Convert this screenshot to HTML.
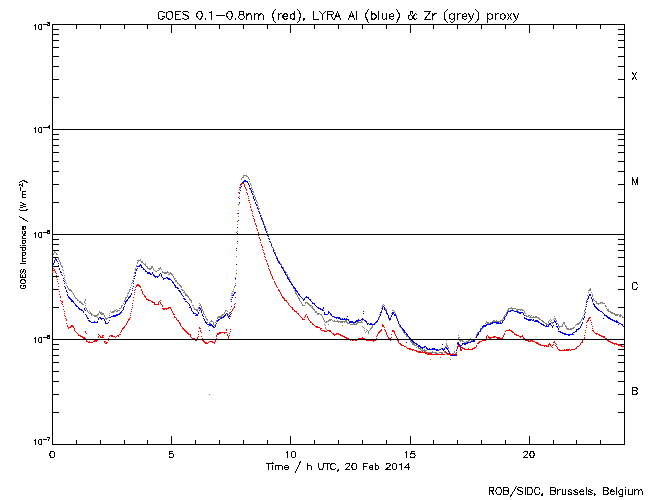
<!DOCTYPE html>
<html lang="en"><head><meta charset="utf-8"><title>GOES 0.1-0.8nm (red), LYRA Al (blue) &amp; Zr (grey) proxy</title>
<style>html,body{margin:0;padding:0;background:#fff;}body{width:650px;height:500px;overflow:hidden;font-family:"Liberation Sans",sans-serif;}svg{display:block;}text{font-family:"Liberation Sans",sans-serif;fill:#000;fill-opacity:0;}.hs{fill:none;stroke:#000;stroke-width:1;stroke-linecap:square;stroke-linejoin:miter;}</style>
</head><body>
<svg width="650" height="500" viewBox="0 0 650 500">
<rect x="0" y="0" width="650" height="500" fill="#fff"/>
<g stroke="#000" stroke-width="1" shape-rendering="crispEdges" fill="none">
<rect x="52.5" y="24.5" width="572" height="420"/>
<line x1="52.5" y1="444" x2="52.5" y2="436"/>
<line x1="52.5" y1="24" x2="52.5" y2="33"/>
<line x1="76.5" y1="444" x2="76.5" y2="440"/>
<line x1="76.5" y1="24" x2="76.5" y2="29"/>
<line x1="100.5" y1="444" x2="100.5" y2="440"/>
<line x1="100.5" y1="24" x2="100.5" y2="29"/>
<line x1="124.5" y1="444" x2="124.5" y2="440"/>
<line x1="124.5" y1="24" x2="124.5" y2="29"/>
<line x1="147.5" y1="444" x2="147.5" y2="440"/>
<line x1="147.5" y1="24" x2="147.5" y2="29"/>
<line x1="171.5" y1="444" x2="171.5" y2="436"/>
<line x1="171.5" y1="24" x2="171.5" y2="33"/>
<line x1="195.5" y1="444" x2="195.5" y2="440"/>
<line x1="195.5" y1="24" x2="195.5" y2="29"/>
<line x1="219.5" y1="444" x2="219.5" y2="440"/>
<line x1="219.5" y1="24" x2="219.5" y2="29"/>
<line x1="243.5" y1="444" x2="243.5" y2="440"/>
<line x1="243.5" y1="24" x2="243.5" y2="29"/>
<line x1="267.5" y1="444" x2="267.5" y2="440"/>
<line x1="267.5" y1="24" x2="267.5" y2="29"/>
<line x1="290.5" y1="444" x2="290.5" y2="436"/>
<line x1="290.5" y1="24" x2="290.5" y2="33"/>
<line x1="314.5" y1="444" x2="314.5" y2="440"/>
<line x1="314.5" y1="24" x2="314.5" y2="29"/>
<line x1="338.5" y1="444" x2="338.5" y2="440"/>
<line x1="338.5" y1="24" x2="338.5" y2="29"/>
<line x1="362.5" y1="444" x2="362.5" y2="440"/>
<line x1="362.5" y1="24" x2="362.5" y2="29"/>
<line x1="386.5" y1="444" x2="386.5" y2="440"/>
<line x1="386.5" y1="24" x2="386.5" y2="29"/>
<line x1="410.5" y1="444" x2="410.5" y2="436"/>
<line x1="410.5" y1="24" x2="410.5" y2="33"/>
<line x1="433.5" y1="444" x2="433.5" y2="440"/>
<line x1="433.5" y1="24" x2="433.5" y2="29"/>
<line x1="457.5" y1="444" x2="457.5" y2="440"/>
<line x1="457.5" y1="24" x2="457.5" y2="29"/>
<line x1="481.5" y1="444" x2="481.5" y2="440"/>
<line x1="481.5" y1="24" x2="481.5" y2="29"/>
<line x1="505.5" y1="444" x2="505.5" y2="440"/>
<line x1="505.5" y1="24" x2="505.5" y2="29"/>
<line x1="529.5" y1="444" x2="529.5" y2="436"/>
<line x1="529.5" y1="24" x2="529.5" y2="33"/>
<line x1="553.5" y1="444" x2="553.5" y2="440"/>
<line x1="553.5" y1="24" x2="553.5" y2="29"/>
<line x1="576.5" y1="444" x2="576.5" y2="440"/>
<line x1="576.5" y1="24" x2="576.5" y2="29"/>
<line x1="600.5" y1="444" x2="600.5" y2="440"/>
<line x1="600.5" y1="24" x2="600.5" y2="29"/>
<line x1="624.5" y1="444" x2="624.5" y2="440"/>
<line x1="624.5" y1="24" x2="624.5" y2="29"/>
<line x1="52" y1="97.5" x2="59" y2="97.5"/>
<line x1="625" y1="97.5" x2="618" y2="97.5"/>
<line x1="52" y1="79.5" x2="59" y2="79.5"/>
<line x1="625" y1="79.5" x2="618" y2="79.5"/>
<line x1="52" y1="66.5" x2="59" y2="66.5"/>
<line x1="625" y1="66.5" x2="618" y2="66.5"/>
<line x1="52" y1="56.5" x2="59" y2="56.5"/>
<line x1="625" y1="56.5" x2="618" y2="56.5"/>
<line x1="52" y1="47.5" x2="59" y2="47.5"/>
<line x1="625" y1="47.5" x2="618" y2="47.5"/>
<line x1="52" y1="40.5" x2="59" y2="40.5"/>
<line x1="625" y1="40.5" x2="618" y2="40.5"/>
<line x1="52" y1="34.5" x2="59" y2="34.5"/>
<line x1="625" y1="34.5" x2="618" y2="34.5"/>
<line x1="52" y1="29.5" x2="59" y2="29.5"/>
<line x1="625" y1="29.5" x2="618" y2="29.5"/>
<line x1="52" y1="202.5" x2="59" y2="202.5"/>
<line x1="625" y1="202.5" x2="618" y2="202.5"/>
<line x1="52" y1="184.5" x2="59" y2="184.5"/>
<line x1="625" y1="184.5" x2="618" y2="184.5"/>
<line x1="52" y1="171.5" x2="59" y2="171.5"/>
<line x1="625" y1="171.5" x2="618" y2="171.5"/>
<line x1="52" y1="161.5" x2="59" y2="161.5"/>
<line x1="625" y1="161.5" x2="618" y2="161.5"/>
<line x1="52" y1="152.5" x2="59" y2="152.5"/>
<line x1="625" y1="152.5" x2="618" y2="152.5"/>
<line x1="52" y1="145.5" x2="59" y2="145.5"/>
<line x1="625" y1="145.5" x2="618" y2="145.5"/>
<line x1="52" y1="139.5" x2="59" y2="139.5"/>
<line x1="625" y1="139.5" x2="618" y2="139.5"/>
<line x1="52" y1="134.5" x2="59" y2="134.5"/>
<line x1="625" y1="134.5" x2="618" y2="134.5"/>
<line x1="52" y1="307.5" x2="59" y2="307.5"/>
<line x1="625" y1="307.5" x2="618" y2="307.5"/>
<line x1="52" y1="289.5" x2="59" y2="289.5"/>
<line x1="625" y1="289.5" x2="618" y2="289.5"/>
<line x1="52" y1="276.5" x2="59" y2="276.5"/>
<line x1="625" y1="276.5" x2="618" y2="276.5"/>
<line x1="52" y1="266.5" x2="59" y2="266.5"/>
<line x1="625" y1="266.5" x2="618" y2="266.5"/>
<line x1="52" y1="257.5" x2="59" y2="257.5"/>
<line x1="625" y1="257.5" x2="618" y2="257.5"/>
<line x1="52" y1="250.5" x2="59" y2="250.5"/>
<line x1="625" y1="250.5" x2="618" y2="250.5"/>
<line x1="52" y1="244.5" x2="59" y2="244.5"/>
<line x1="625" y1="244.5" x2="618" y2="244.5"/>
<line x1="52" y1="239.5" x2="59" y2="239.5"/>
<line x1="625" y1="239.5" x2="618" y2="239.5"/>
<line x1="52" y1="412.5" x2="59" y2="412.5"/>
<line x1="625" y1="412.5" x2="618" y2="412.5"/>
<line x1="52" y1="394.5" x2="59" y2="394.5"/>
<line x1="625" y1="394.5" x2="618" y2="394.5"/>
<line x1="52" y1="381.5" x2="59" y2="381.5"/>
<line x1="625" y1="381.5" x2="618" y2="381.5"/>
<line x1="52" y1="371.5" x2="59" y2="371.5"/>
<line x1="625" y1="371.5" x2="618" y2="371.5"/>
<line x1="52" y1="362.5" x2="59" y2="362.5"/>
<line x1="625" y1="362.5" x2="618" y2="362.5"/>
<line x1="52" y1="355.5" x2="59" y2="355.5"/>
<line x1="625" y1="355.5" x2="618" y2="355.5"/>
<line x1="52" y1="349.5" x2="59" y2="349.5"/>
<line x1="625" y1="349.5" x2="618" y2="349.5"/>
<line x1="52" y1="344.5" x2="59" y2="344.5"/>
<line x1="625" y1="344.5" x2="618" y2="344.5"/>
</g>
<g>
<path d="M243 175.5h4M243 176.5h1M246 176.5h2M242 177.5h2M248 177.5h1M241 178.5h1M248 178.5h1M241 179.5h1M249 179.5h1M249 181.5h1M250 183.5h1M240 184.5h1M250 184.5h1M251 185.5h1M251 187.5h1M240 188.5h1M251 188.5h1M252 189.5h1M252 191.5h2M239 192.5h1M253 192.5h1M253 194.5h1M254 195.5h1M239 196.5h1M254 196.5h1M255 197.5h1M255 198.5h1M255 199.5h1M256 200.5h1M256 201.5h1M257 202.5h1M239 203.5h1M257 204.5h1M257 205.5h1M258 206.5h1M258 208.5h2M238 210.5h1M259 211.5h1M260 213.5h1M261 215.5h1M238 216.5h1M261 217.5h1M262 218.5h1M262 219.5h1M263 221.5h1M263 222.5h1M263 223.5h1M237 224.5h1M264 224.5h1M264 225.5h1M265 226.5h1M265 227.5h1M265 228.5h1M266 229.5h1M237 231.5h1M266 231.5h2M267 233.5h1M267 235.5h2M268 236.5h1M269 238.5h1M269 239.5h1M270 241.5h1M270 242.5h1M237 243.5h1M271 243.5h1M271 246.5h1M272 247.5h1M273 248.5h1M273 249.5h1M273 250.5h2M54 251.5h1M54 252.5h2M274 252.5h2M53 253.5h1M56 253.5h1M275 253.5h1M53 254.5h1M56 254.5h2M275 255.5h1M236 256.5h1M276 256.5h1M58 257.5h1M276 257.5h2M58 258.5h1M58 259.5h1M140 259.5h1M277 259.5h1M59 260.5h1M137 260.5h4M278 260.5h1M59 261.5h1M138 261.5h1M141 261.5h2M278 261.5h2M60 262.5h1M137 262.5h1M141 262.5h2M60 263.5h1M137 263.5h1M143 263.5h1M145 263.5h1M279 263.5h2M60 264.5h1M144 264.5h2M280 264.5h2M61 265.5h1M136 265.5h1M145 265.5h1M281 265.5h1M61 266.5h2M136 266.5h1M146 266.5h2M151 266.5h2M62 267.5h1M147 267.5h1M151 267.5h2M160 267.5h1M282 267.5h2M135 268.5h1M147 268.5h5M153 268.5h1M158 268.5h3M283 268.5h1M62 269.5h1M135 269.5h1M149 269.5h2M153 269.5h1M159 269.5h1M161 269.5h1M63 270.5h1M135 270.5h1M154 270.5h1M157 270.5h2M236 270.5h1M284 270.5h1M155 271.5h2M162 271.5h1M167 271.5h1M285 271.5h1M134 272.5h1M162 272.5h7M170 272.5h1M285 272.5h2M63 273.5h1M134 273.5h1M164 273.5h3M169 273.5h3M168 274.5h2M171 274.5h2M286 274.5h2M64 275.5h1M172 275.5h1M287 275.5h1M133 276.5h1M173 276.5h1M287 276.5h1M64 277.5h1M173 277.5h1M235 277.5h1M288 277.5h2M133 278.5h1M174 278.5h2M64 279.5h1M174 279.5h1M235 279.5h1M289 279.5h1M65 280.5h1M132 280.5h2M175 280.5h2M175 281.5h2M290 281.5h1M65 282.5h1M132 282.5h1M177 282.5h1M291 282.5h1M66 283.5h1M131 283.5h1M177 283.5h2M235 283.5h1M291 283.5h1M179 284.5h1M292 284.5h1M66 285.5h1M131 285.5h1M179 285.5h2M292 285.5h1M67 286.5h1M180 286.5h2M234 286.5h1M293 286.5h1M67 287.5h1M130 287.5h1M181 287.5h1M234 287.5h1M293 287.5h1M68 288.5h1M293 288.5h1M590 288.5h1M68 289.5h3M129 289.5h2M181 289.5h2M233 289.5h1M589 289.5h2M69 290.5h3M129 290.5h1M182 290.5h2M294 290.5h1M588 290.5h3M71 291.5h1M129 291.5h1M184 291.5h1M232 291.5h2M295 291.5h1M72 292.5h1M128 292.5h1M183 292.5h2M295 292.5h1M588 292.5h1M591 292.5h1M73 293.5h1M127 293.5h2M185 293.5h1M231 293.5h2M295 293.5h2M73 294.5h1M185 294.5h2M296 294.5h1M592 294.5h1M74 295.5h1M127 295.5h1M185 295.5h3M231 295.5h1M297 295.5h1M587 295.5h1M592 295.5h1M74 296.5h1M127 296.5h1M187 296.5h2M297 296.5h1M592 296.5h1M75 297.5h1M125 297.5h2M188 297.5h1M231 297.5h1M298 297.5h1M75 298.5h2M125 298.5h1M189 298.5h1M298 298.5h2M587 298.5h1M593 298.5h1M77 299.5h1M85 299.5h1M125 299.5h1M189 299.5h2M230 299.5h1M299 299.5h1M593 299.5h1M77 300.5h2M85 300.5h1M124 300.5h1M190 300.5h2M299 300.5h1M586 300.5h1M594 300.5h1M79 301.5h2M84 301.5h1M124 301.5h1M191 301.5h1M300 301.5h1M586 301.5h1M595 301.5h2M79 302.5h3M84 302.5h1M191 302.5h1M301 302.5h1M305 302.5h3M596 302.5h1M600 302.5h3M81 303.5h2M85 303.5h1M123 303.5h1M199 303.5h1M301 303.5h1M305 303.5h1M307 303.5h2M596 303.5h5M602 303.5h3M82 304.5h2M200 304.5h1M302 304.5h1M308 304.5h2M383 304.5h1M586 304.5h1M598 304.5h1M85 305.5h1M121 305.5h2M192 305.5h2M199 305.5h2M302 305.5h3M309 305.5h3M382 305.5h1M384 305.5h1M605 305.5h1M121 306.5h1M201 306.5h1M310 306.5h1M312 306.5h1M382 306.5h1M585 306.5h1M605 306.5h2M85 307.5h1M121 307.5h1M193 307.5h1M198 307.5h1M201 307.5h1M311 307.5h2M384 307.5h1M511 307.5h1M86 308.5h1M119 308.5h2M194 308.5h1M198 308.5h1M201 308.5h1M312 308.5h2M381 308.5h1M385 308.5h1M508 308.5h8M585 308.5h1M606 308.5h1M86 309.5h1M116 309.5h1M194 309.5h4M202 309.5h1M230 309.5h1M313 309.5h2M385 309.5h2M508 309.5h1M512 309.5h1M516 309.5h7M607 309.5h2M87 310.5h1M114 310.5h2M117 310.5h3M196 310.5h2M202 310.5h1M225 310.5h2M314 310.5h1M381 310.5h1M386 310.5h1M392 310.5h2M507 310.5h2M516 310.5h2M520 310.5h1M522 310.5h2M584 310.5h1M607 310.5h2M87 311.5h1M89 311.5h1M99 311.5h1M110 311.5h1M112 311.5h3M116 311.5h2M197 311.5h1M203 311.5h1M225 311.5h1M227 311.5h1M315 311.5h2M386 311.5h1M394 311.5h1M507 311.5h1M518 311.5h1M524 311.5h1M584 311.5h1M608 311.5h3M88 312.5h1M90 312.5h1M99 312.5h3M111 312.5h3M203 312.5h1M224 312.5h1M229 312.5h1M315 312.5h2M380 312.5h1M392 312.5h1M394 312.5h1M506 312.5h1M524 312.5h1M610 312.5h3M89 313.5h3M98 313.5h1M100 313.5h4M109 313.5h1M203 313.5h1M224 313.5h1M227 313.5h1M229 313.5h1M317 313.5h3M380 313.5h1M387 313.5h1M391 313.5h1M395 313.5h1M506 313.5h1M525 313.5h1M584 313.5h1M611 313.5h4M91 314.5h2M97 314.5h2M101 314.5h3M204 314.5h1M222 314.5h2M228 314.5h1M317 314.5h2M320 314.5h2M379 314.5h2M387 314.5h1M505 314.5h1M614 314.5h5M620 314.5h1M91 315.5h1M93 315.5h5M104 315.5h1M109 315.5h1M221 315.5h2M321 315.5h1M391 315.5h1M396 315.5h1M504 315.5h1M525 315.5h2M528 315.5h2M531 315.5h1M583 315.5h1M615 315.5h3M619 315.5h3M94 316.5h3M104 316.5h1M205 316.5h1M218 316.5h4M229 316.5h1M322 316.5h1M334 316.5h1M347 316.5h1M388 316.5h1M396 316.5h1M504 316.5h1M526 316.5h3M530 316.5h1M533 316.5h1M535 316.5h2M554 316.5h1M619 316.5h2M622 316.5h1M97 317.5h1M105 317.5h1M108 317.5h1M205 317.5h1M217 317.5h4M322 317.5h1M378 317.5h2M388 317.5h1M390 317.5h1M503 317.5h1M529 317.5h10M582 317.5h1M622 317.5h2M105 318.5h3M206 318.5h1M217 318.5h1M323 318.5h1M378 318.5h1M388 318.5h1M390 318.5h1M396 318.5h2M503 318.5h2M538 318.5h2M554 318.5h2M582 318.5h1M106 319.5h1M206 319.5h2M323 319.5h1M329 319.5h3M378 319.5h1M390 319.5h1M502 319.5h1M539 319.5h2M550 319.5h1M553 319.5h1M555 319.5h1M581 319.5h1M207 320.5h1M211 320.5h1M216 320.5h1M324 320.5h1M328 320.5h3M332 320.5h1M334 320.5h1M337 320.5h1M345 320.5h2M362 320.5h1M377 320.5h1M389 320.5h1M397 320.5h1M493 320.5h2M496 320.5h1M500 320.5h3M541 320.5h2M549 320.5h1M551 320.5h1M556 320.5h1M581 320.5h1M210 321.5h3M216 321.5h1M324 321.5h1M326 321.5h3M333 321.5h14M358 321.5h1M361 321.5h1M376 321.5h2M398 321.5h1M486 321.5h1M492 321.5h9M542 321.5h2M548 321.5h1M550 321.5h1M556 321.5h1M580 321.5h1M207 322.5h1M209 322.5h1M213 322.5h1M215 322.5h1M325 322.5h2M338 322.5h1M340 322.5h3M344 322.5h1M346 322.5h2M357 322.5h6M375 322.5h2M486 322.5h3M490 322.5h2M497 322.5h1M543 322.5h2M548 322.5h1M551 322.5h3M563 322.5h2M579 322.5h2M209 323.5h2M213 323.5h1M347 323.5h3M353 323.5h2M356 323.5h2M375 323.5h1M398 323.5h1M485 323.5h1M487 323.5h3M545 323.5h2M552 323.5h1M556 323.5h2M563 323.5h2M577 323.5h3M208 324.5h2M213 324.5h1M215 324.5h1M324 324.5h1M328 324.5h1M350 324.5h7M373 324.5h2M488 324.5h1M546 324.5h3M558 324.5h1M562 324.5h1M564 324.5h1M576 324.5h3M214 325.5h1M325 325.5h1M342 325.5h1M372 325.5h1M399 325.5h1M484 325.5h2M558 325.5h1M562 325.5h1M565 325.5h1M575 325.5h1M208 326.5h1M362 326.5h1M372 326.5h1M399 326.5h2M483 326.5h2M558 326.5h5M565 326.5h2M325 327.5h1M363 327.5h1M371 327.5h2M400 327.5h2M482 327.5h2M559 327.5h1M566 327.5h1M573 327.5h2M325 328.5h1M364 328.5h1M370 328.5h2M401 328.5h1M480 328.5h1M482 328.5h1M566 328.5h3M570 328.5h4M326 329.5h1M366 329.5h1M370 329.5h1M402 329.5h1M481 329.5h1M567 329.5h5M364 330.5h1M367 330.5h1M369 330.5h1M402 330.5h1M480 330.5h1M366 331.5h1M368 331.5h1M403 331.5h1M479 331.5h1M365 332.5h1M368 332.5h1M403 332.5h2M477 332.5h2M368 333.5h1M404 333.5h1M477 333.5h1M405 334.5h2M476 334.5h1M406 335.5h1M458 335.5h1M476 335.5h1M406 336.5h2M408 337.5h1M458 337.5h2M475 337.5h2M458 338.5h1M470 338.5h1M409 339.5h2M458 339.5h1M461 339.5h1M469 339.5h2M474 339.5h2M410 340.5h1M446 340.5h1M459 340.5h4M468 340.5h2M471 340.5h4M410 341.5h2M460 341.5h1M462 341.5h2M466 341.5h3M470 341.5h1M472 341.5h1M411 342.5h2M457 342.5h1M464 342.5h3M412 343.5h3M446 343.5h1M464 343.5h2M412 344.5h3M442 344.5h1M446 344.5h1M457 344.5h1M464 344.5h1M414 345.5h3M446 345.5h2M417 346.5h2M445 346.5h1M447 346.5h1M416 347.5h1M418 347.5h1M448 347.5h1M418 348.5h4M448 348.5h1M420 349.5h1M422 349.5h1M424 349.5h1M444 349.5h1M456 349.5h1M421 350.5h6M448 350.5h1M425 351.5h1M432 351.5h1M444 351.5h1M449 351.5h1M454 351.5h1M426 352.5h11M439 352.5h4M444 352.5h1M449 352.5h1M454 352.5h1M456 352.5h1M427 353.5h1M429 353.5h1M435 353.5h4M441 353.5h2M450 353.5h1M452 353.5h2M455 353.5h2M443 354.5h1M451 354.5h1M453 354.5h1M455 354.5h1M440 357.5h1M430 359.5h1M450 359.5h1M209 394.5h1" fill="none" stroke="#808080" stroke-width="1" shape-rendering="crispEdges"/>
<path d="M244 180.5h2M243 181.5h5M242 182.5h2M247 182.5h1M248 183.5h1M241 184.5h1M248 184.5h1M249 185.5h1M241 186.5h1M249 186.5h1M240 187.5h1M249 188.5h2M250 189.5h1M240 190.5h1M251 190.5h1M251 191.5h1M251 192.5h1M239 193.5h1M252 193.5h1M252 194.5h1M253 196.5h1M253 197.5h1M239 198.5h1M253 198.5h1M254 199.5h1M254 200.5h1M239 202.5h1M255 202.5h1M255 203.5h1M256 204.5h1M256 205.5h1M257 207.5h1M257 208.5h1M258 209.5h1M258 211.5h1M259 212.5h1M238 213.5h1M259 213.5h1M260 215.5h1M260 216.5h1M261 217.5h1M261 218.5h1M261 219.5h1M238 220.5h1M262 220.5h1M262 221.5h1M263 222.5h1M263 223.5h1M263 224.5h1M264 226.5h1M237 227.5h1M264 227.5h1M265 228.5h1M265 229.5h1M265 230.5h1M266 231.5h1M266 232.5h1M237 233.5h1M267 234.5h1M267 235.5h1M268 236.5h1M268 238.5h1M269 239.5h1M237 241.5h1M269 241.5h1M270 242.5h1M271 244.5h1M271 245.5h1M272 247.5h1M236 248.5h1M273 249.5h1M273 250.5h1M273 251.5h1M274 252.5h1M274 253.5h1M275 254.5h1M275 255.5h1M276 256.5h1M55 258.5h1M276 258.5h2M55 259.5h2M277 259.5h1M54 260.5h1M56 260.5h1M277 260.5h1M54 261.5h1M57 261.5h1M278 261.5h1M54 262.5h1M278 262.5h2M53 263.5h1M58 263.5h1M279 263.5h1M53 264.5h1M140 264.5h1M236 264.5h1M280 264.5h1M58 265.5h1M139 265.5h3M53 266.5h1M137 266.5h3M141 266.5h1M281 266.5h1M141 267.5h2M281 267.5h2M59 268.5h1M137 268.5h1M143 268.5h1M282 268.5h1M59 269.5h1M136 269.5h1M143 269.5h2M283 269.5h1M136 270.5h1M145 270.5h1M283 270.5h1M60 271.5h1M145 271.5h2M284 271.5h1M60 272.5h2M135 272.5h1M147 272.5h3M152 272.5h1M284 272.5h2M135 273.5h1M147 273.5h4M152 273.5h1M160 273.5h1M285 273.5h1M61 274.5h1M150 274.5h2M153 274.5h1M159 274.5h1M161 274.5h1M285 274.5h1M62 275.5h1M135 275.5h1M153 275.5h2M159 275.5h1M161 275.5h1M286 275.5h1M134 276.5h1M154 276.5h5M161 276.5h1M287 276.5h1M155 277.5h1M157 277.5h1M162 277.5h1M166 277.5h2M287 277.5h1M63 278.5h1M134 278.5h1M163 278.5h3M167 278.5h3M235 278.5h1M287 278.5h2M163 279.5h1M168 279.5h3M288 279.5h2M63 280.5h1M171 280.5h1M289 280.5h1M64 281.5h1M133 281.5h1M172 281.5h1M289 281.5h2M172 282.5h2M290 282.5h1M64 283.5h1M133 283.5h1M173 283.5h1M291 283.5h1M174 284.5h1M291 284.5h2M174 285.5h2M235 285.5h1M292 285.5h1M64 286.5h1M133 286.5h1M175 286.5h1M293 286.5h1M65 287.5h1M175 287.5h3M293 287.5h2M65 288.5h1M132 288.5h1M177 288.5h2M294 288.5h2M295 289.5h1M66 290.5h1M132 290.5h1M178 290.5h2M295 290.5h2M66 291.5h1M179 291.5h2M296 291.5h2M67 292.5h1M180 292.5h1M234 292.5h2M297 292.5h1M131 293.5h1M181 293.5h1M234 293.5h1M298 293.5h1M67 294.5h1M131 294.5h1M181 294.5h1M233 294.5h1M298 294.5h2M589 294.5h2M67 295.5h1M130 295.5h1M182 295.5h1M232 295.5h2M299 295.5h1M589 295.5h2M68 296.5h1M129 296.5h2M183 296.5h1M300 296.5h1M306 296.5h1M588 296.5h1M68 297.5h2M128 297.5h2M232 297.5h1M301 297.5h1M305 297.5h4M588 297.5h1M591 297.5h1M69 298.5h2M128 298.5h1M183 298.5h2M302 298.5h1M304 298.5h1M308 298.5h1M588 298.5h1M591 298.5h1M70 299.5h2M127 299.5h1M184 299.5h2M231 299.5h1M303 299.5h2M309 299.5h2M587 299.5h1M592 299.5h1M71 300.5h2M126 300.5h2M303 300.5h1M310 300.5h1M592 300.5h1M71 301.5h3M125 301.5h2M185 301.5h2M231 301.5h1M311 301.5h1M587 301.5h1M592 301.5h1M73 302.5h1M125 302.5h1M187 302.5h1M312 302.5h1M586 302.5h1M74 303.5h1M125 303.5h1M188 303.5h1M312 303.5h3M593 303.5h1M75 304.5h1M124 304.5h1M189 304.5h1M314 304.5h1M586 304.5h1M593 304.5h2M75 305.5h2M189 305.5h1M315 305.5h1M594 305.5h1M76 306.5h2M124 306.5h1M190 306.5h1M231 306.5h1M316 306.5h1M383 306.5h1M586 306.5h1M594 306.5h2M78 307.5h1M123 307.5h1M189 307.5h2M199 307.5h1M317 307.5h2M323 307.5h1M382 307.5h1M384 307.5h1M595 307.5h2M78 308.5h2M84 308.5h1M123 308.5h1M191 308.5h1M199 308.5h2M318 308.5h3M323 308.5h1M382 308.5h1M384 308.5h1M596 308.5h2M79 309.5h3M84 309.5h1M123 309.5h1M191 309.5h1M200 309.5h1M320 309.5h3M382 309.5h1M384 309.5h1M585 309.5h1M597 309.5h2M81 310.5h2M85 310.5h1M122 310.5h1M191 310.5h1M199 310.5h1M201 310.5h1M322 310.5h2M385 310.5h1M510 310.5h4M598 310.5h2M83 311.5h1M121 311.5h1M192 311.5h1M201 311.5h1M328 311.5h1M363 311.5h1M381 311.5h1M386 311.5h1M508 311.5h3M514 311.5h4M600 311.5h2M83 312.5h1M120 312.5h2M193 312.5h1M198 312.5h1M201 312.5h1M230 312.5h1M324 312.5h1M328 312.5h2M380 312.5h2M386 312.5h1M392 312.5h2M507 312.5h1M517 312.5h6M585 312.5h1M602 312.5h1M119 313.5h2M193 313.5h3M198 313.5h1M226 313.5h1M324 313.5h1M328 313.5h1M330 313.5h1M363 313.5h1M386 313.5h2M392 313.5h2M507 313.5h1M519 313.5h2M523 313.5h1M603 313.5h1M85 314.5h1M116 314.5h4M196 314.5h2M202 314.5h1M225 314.5h1M227 314.5h1M230 314.5h1M324 314.5h4M330 314.5h2M380 314.5h1M387 314.5h1M392 314.5h1M394 314.5h2M506 314.5h1M523 314.5h1M584 314.5h1M604 314.5h1M86 315.5h1M113 315.5h5M195 315.5h3M202 315.5h1M224 315.5h2M227 315.5h1M229 315.5h1M331 315.5h1M380 315.5h1M388 315.5h1M391 315.5h1M394 315.5h2M506 315.5h1M524 315.5h1M604 315.5h3M86 316.5h1M111 316.5h5M203 316.5h1M223 316.5h2M228 316.5h2M332 316.5h2M347 316.5h1M379 316.5h1M388 316.5h1M391 316.5h1M396 316.5h1M505 316.5h1M584 316.5h1M606 316.5h2M87 317.5h1M99 317.5h2M109 317.5h2M221 317.5h3M228 317.5h1M334 317.5h6M388 317.5h1M396 317.5h1M504 317.5h1M524 317.5h1M584 317.5h1M607 317.5h3M87 318.5h2M98 318.5h1M100 318.5h4M203 318.5h1M220 318.5h2M229 318.5h1M336 318.5h1M338 318.5h3M342 318.5h1M344 318.5h1M346 318.5h1M362 318.5h1M378 318.5h1M389 318.5h2M504 318.5h1M524 318.5h3M583 318.5h1M603 318.5h1M608 318.5h3M98 319.5h1M101 319.5h1M104 319.5h1M204 319.5h1M218 319.5h2M340 319.5h9M358 319.5h1M361 319.5h3M378 319.5h1M389 319.5h2M397 319.5h1M504 319.5h1M526 319.5h6M533 319.5h1M583 319.5h1M610 319.5h3M88 320.5h2M104 320.5h1M109 320.5h1M204 320.5h1M217 320.5h2M348 320.5h1M356 320.5h5M364 320.5h2M377 320.5h1M397 320.5h1M503 320.5h1M528 320.5h3M532 320.5h2M535 320.5h3M554 320.5h1M612 320.5h3M616 320.5h1M89 321.5h2M94 321.5h1M97 321.5h1M105 321.5h1M205 321.5h1M217 321.5h1M349 321.5h4M355 321.5h3M365 321.5h2M376 321.5h2M398 321.5h1M502 321.5h1M534 321.5h5M554 321.5h2M614 321.5h4M91 322.5h7M105 322.5h1M108 322.5h1M205 322.5h2M349 322.5h7M366 322.5h1M375 322.5h2M398 322.5h1M492 322.5h7M500 322.5h1M502 322.5h1M538 322.5h2M553 322.5h1M555 322.5h1M582 322.5h1M616 322.5h3M105 323.5h3M206 323.5h1M216 323.5h1M367 323.5h2M370 323.5h2M374 323.5h1M398 323.5h1M490 323.5h3M496 323.5h6M540 323.5h2M549 323.5h2M556 323.5h1M582 323.5h1M619 323.5h2M207 324.5h5M367 324.5h1M369 324.5h6M399 324.5h1M486 324.5h5M541 324.5h3M549 324.5h2M556 324.5h1M581 324.5h1M618 324.5h1M621 324.5h2M209 325.5h4M215 325.5h1M400 325.5h1M483 325.5h4M543 325.5h2M546 325.5h1M548 325.5h1M551 325.5h1M553 325.5h1M581 325.5h1M622 325.5h1M212 326.5h2M215 326.5h1M400 326.5h1M482 326.5h4M545 326.5h4M552 326.5h1M556 326.5h2M580 326.5h1M623 326.5h1M213 327.5h2M401 327.5h1M482 327.5h1M552 327.5h1M557 327.5h1M580 327.5h1M402 328.5h1M481 328.5h1M558 328.5h1M578 328.5h2M402 329.5h2M480 329.5h1M558 329.5h1M576 329.5h3M209 330.5h1M403 330.5h2M480 330.5h1M576 330.5h1M404 331.5h1M479 331.5h2M558 331.5h3M575 331.5h2M404 332.5h2M478 332.5h1M560 332.5h3M573 332.5h2M406 333.5h1M478 333.5h1M562 333.5h4M572 333.5h1M406 334.5h2M477 334.5h2M564 334.5h10M407 335.5h1M477 335.5h1M568 335.5h2M408 336.5h1M476 336.5h1M409 337.5h1M476 337.5h1M409 338.5h2M410 339.5h2M475 339.5h2M411 340.5h2M473 340.5h2M412 341.5h2M471 341.5h4M406 342.5h1M413 342.5h2M458 342.5h1M467 342.5h4M415 343.5h2M457 343.5h2M462 343.5h6M416 344.5h2M442 344.5h1M458 344.5h2M462 344.5h1M464 344.5h2M418 345.5h2M459 345.5h3M418 346.5h3M424 346.5h2M460 346.5h1M420 347.5h5M426 347.5h1M445 347.5h2M457 347.5h1M461 347.5h1M422 348.5h1M426 348.5h2M429 348.5h1M432 348.5h3M441 348.5h2M444 348.5h1M446 348.5h2M460 348.5h1M427 349.5h11M439 349.5h2M442 349.5h3M447 349.5h1M436 350.5h3M443 350.5h1M448 350.5h1M456 350.5h1M448 351.5h1M449 352.5h1M449 353.5h1M450 354.5h1M452 354.5h5M450 355.5h7" fill="none" stroke="#0000ff" stroke-width="1" shape-rendering="crispEdges"/>
<path d="M241 183.5h3M240 184.5h1M244 184.5h1M240 185.5h1M244 185.5h1M244 186.5h1M239 187.5h1M245 187.5h1M245 188.5h1M239 189.5h1M246 189.5h1M246 190.5h1M238 192.5h1M246 192.5h1M247 193.5h1M247 194.5h1M248 196.5h1M238 197.5h1M248 198.5h1M248 200.5h2M249 202.5h1M238 204.5h1M250 204.5h1M250 206.5h1M250 207.5h1M251 209.5h1M251 210.5h1M252 211.5h1M237 213.5h1M252 213.5h1M252 215.5h1M253 216.5h1M253 218.5h1M254 219.5h1M254 220.5h1M237 221.5h1M254 221.5h1M255 223.5h1M255 224.5h1M256 225.5h1M256 226.5h1M256 228.5h1M257 229.5h1M257 230.5h1M236 232.5h1M258 232.5h1M258 233.5h1M258 235.5h1M259 237.5h1M259 238.5h1M260 239.5h1M260 240.5h1M260 242.5h1M261 244.5h1M261 245.5h1M262 246.5h1M262 247.5h1M262 249.5h1M236 250.5h1M263 250.5h1M263 252.5h1M264 253.5h1M264 254.5h1M264 256.5h1M265 257.5h1M265 259.5h1M266 260.5h1M266 261.5h1M267 263.5h1M267 264.5h1M268 265.5h1M268 266.5h1M53 268.5h1M268 268.5h1M54 269.5h1M269 269.5h1M53 270.5h2M269 270.5h1M52 271.5h1M55 271.5h1M270 271.5h1M52 272.5h1M55 272.5h1M270 272.5h1M56 273.5h1M236 273.5h1M270 273.5h1M271 274.5h1M56 275.5h1M271 275.5h1M272 276.5h1M56 277.5h1M272 277.5h1M272 278.5h1M57 279.5h1M273 279.5h1M57 281.5h1M274 281.5h1M274 282.5h1M58 283.5h1M275 283.5h1M137 284.5h2M275 284.5h1M136 285.5h4M276 285.5h1M58 286.5h1M136 286.5h1M139 286.5h2M276 286.5h1M135 287.5h1M140 287.5h1M277 287.5h1M58 289.5h1M135 289.5h1M141 289.5h1M278 289.5h1M134 290.5h1M141 290.5h1M278 290.5h2M59 291.5h1M142 291.5h1M279 291.5h1M134 292.5h1M142 292.5h1M280 292.5h1M142 293.5h1M280 293.5h1M59 294.5h1M134 294.5h1M143 294.5h1M281 294.5h1M144 295.5h1M281 295.5h1M60 296.5h1M144 296.5h2M282 296.5h1M60 297.5h1M133 297.5h1M145 297.5h1M235 297.5h1M282 297.5h2M146 298.5h1M283 298.5h2M146 299.5h3M284 299.5h1M60 300.5h1M133 300.5h1M148 300.5h3M160 300.5h1M284 300.5h3M61 301.5h2M151 301.5h2M159 301.5h1M286 301.5h1M62 302.5h1M152 302.5h3M158 302.5h1M160 302.5h1M287 302.5h1M61 303.5h1M132 303.5h1M154 303.5h1M158 303.5h1M160 303.5h1M235 303.5h1M288 303.5h1M62 304.5h1M154 304.5h5M161 304.5h1M234 304.5h1M288 304.5h1M132 305.5h1M162 305.5h1M289 305.5h1M63 306.5h1M162 306.5h1M234 306.5h1M290 306.5h1M132 307.5h1M168 307.5h3M234 307.5h1M291 307.5h2M162 308.5h7M170 308.5h1M233 308.5h1M292 308.5h1M63 309.5h1M131 309.5h1M163 309.5h2M166 309.5h1M171 309.5h1M232 309.5h1M292 309.5h2M171 310.5h1M232 310.5h1M294 310.5h1M64 311.5h1M131 311.5h1M172 311.5h1M231 311.5h1M294 311.5h3M172 312.5h1M296 312.5h1M64 313.5h1M130 313.5h1M173 313.5h1M231 313.5h1M297 313.5h2M173 314.5h2M298 314.5h1M306 314.5h1M64 315.5h1M130 315.5h1M299 315.5h1M305 315.5h1M65 316.5h1M174 316.5h1M230 316.5h1M300 316.5h1M305 316.5h1M307 316.5h1M130 317.5h1M174 317.5h2M301 317.5h1M304 317.5h1M307 317.5h1M589 317.5h2M65 318.5h1M129 318.5h1M176 318.5h1M302 318.5h1M308 318.5h1M588 318.5h2M66 319.5h1M128 319.5h2M176 319.5h1M302 319.5h3M308 319.5h1M588 319.5h1M66 320.5h1M128 320.5h1M177 320.5h2M309 320.5h1M587 320.5h2M590 320.5h1M127 321.5h1M178 321.5h1M310 321.5h1M587 321.5h1M127 322.5h1M179 322.5h1M310 322.5h2M586 322.5h1M591 322.5h1M66 323.5h1M126 323.5h1M179 323.5h2M312 323.5h1M126 324.5h1M180 324.5h1M312 324.5h2M382 324.5h1M591 324.5h1M67 325.5h1M71 325.5h2M125 325.5h1M180 325.5h1M314 325.5h1M382 325.5h2M586 325.5h1M67 326.5h1M70 326.5h4M124 326.5h1M181 326.5h1M315 326.5h3M382 326.5h2M592 326.5h1M68 327.5h3M73 327.5h1M123 327.5h2M182 327.5h1M199 327.5h1M316 327.5h4M384 327.5h1M586 327.5h1M68 328.5h1M74 328.5h1M122 328.5h2M182 328.5h2M199 328.5h2M320 328.5h2M592 328.5h1M74 329.5h1M122 329.5h1M183 329.5h2M226 329.5h1M230 329.5h1M320 329.5h1M381 329.5h1M384 329.5h1M509 329.5h1M74 330.5h1M121 330.5h1M184 330.5h2M200 330.5h1M226 330.5h1M321 330.5h4M327 330.5h4M380 330.5h2M385 330.5h1M392 330.5h2M506 330.5h6M585 330.5h1M592 330.5h2M75 331.5h1M85 331.5h1M121 331.5h1M185 331.5h2M198 331.5h1M200 331.5h1M230 331.5h1M324 331.5h3M329 331.5h2M379 331.5h2M385 331.5h1M392 331.5h3M505 331.5h1M511 331.5h2M593 331.5h1M76 332.5h1M85 332.5h1M120 332.5h1M186 332.5h2M201 332.5h1M219 332.5h8M331 332.5h1M378 332.5h2M386 332.5h1M394 332.5h1M512 332.5h2M585 332.5h1M594 332.5h1M77 333.5h1M86 333.5h1M187 333.5h2M217 333.5h4M224 333.5h1M229 333.5h1M332 333.5h2M336 333.5h3M378 333.5h1M386 333.5h1M394 333.5h1M504 333.5h1M514 333.5h1M595 333.5h3M78 334.5h1M98 334.5h1M119 334.5h2M188 334.5h3M198 334.5h1M217 334.5h2M227 334.5h1M333 334.5h4M338 334.5h3M377 334.5h1M386 334.5h1M391 334.5h1M395 334.5h1M504 334.5h1M514 334.5h3M596 334.5h1M598 334.5h2M78 335.5h3M99 335.5h1M102 335.5h2M110 335.5h3M117 335.5h2M190 335.5h1M216 335.5h1M227 335.5h1M229 335.5h1M334 335.5h1M340 335.5h3M377 335.5h1M387 335.5h1M395 335.5h1M487 335.5h1M503 335.5h1M516 335.5h3M522 335.5h1M584 335.5h1M599 335.5h3M80 336.5h3M98 336.5h1M100 336.5h1M102 336.5h1M109 336.5h1M111 336.5h4M116 336.5h1M118 336.5h1M190 336.5h1M198 336.5h1M201 336.5h1M216 336.5h1M228 336.5h1M342 336.5h3M376 336.5h1M387 336.5h1M396 336.5h1M486 336.5h1M488 336.5h1M493 336.5h3M503 336.5h1M519 336.5h4M601 336.5h4M82 337.5h3M98 337.5h1M100 337.5h4M115 337.5h1M191 337.5h1M197 337.5h1M228 337.5h1M344 337.5h3M362 337.5h1M388 337.5h1M391 337.5h1M396 337.5h1M486 337.5h1M488 337.5h7M496 337.5h4M502 337.5h1M520 337.5h1M523 337.5h1M584 337.5h1M603 337.5h2M83 338.5h3M108 338.5h1M192 338.5h3M197 338.5h1M202 338.5h1M216 338.5h1M228 338.5h1M346 338.5h3M358 338.5h7M376 338.5h1M388 338.5h3M397 338.5h1M486 338.5h1M489 338.5h2M497 338.5h6M523 338.5h2M584 338.5h1M605 338.5h2M85 339.5h1M104 339.5h1M108 339.5h1M193 339.5h4M202 339.5h1M347 339.5h11M364 339.5h3M389 339.5h2M484 339.5h2M524 339.5h1M583 339.5h1M606 339.5h2M86 340.5h1M94 340.5h4M108 340.5h1M195 340.5h2M202 340.5h2M215 340.5h1M350 340.5h1M352 340.5h2M355 340.5h2M366 340.5h10M390 340.5h1M397 340.5h2M482 340.5h4M525 340.5h4M530 340.5h3M582 340.5h1M607 340.5h2M86 341.5h2M89 341.5h1M93 341.5h4M104 341.5h2M203 341.5h2M209 341.5h4M215 341.5h1M373 341.5h1M398 341.5h1M479 341.5h3M528 341.5h3M532 341.5h3M554 341.5h1M582 341.5h1M608 341.5h3M88 342.5h5M104 342.5h1M106 342.5h2M204 342.5h3M208 342.5h1M212 342.5h3M398 342.5h1M478 342.5h2M535 342.5h3M553 342.5h2M581 342.5h2M610 342.5h3M105 343.5h2M205 343.5h3M214 343.5h1M399 343.5h2M477 343.5h2M536 343.5h3M549 343.5h1M555 343.5h1M580 343.5h1M612 343.5h5M400 344.5h2M538 344.5h3M548 344.5h3M553 344.5h1M556 344.5h1M580 344.5h1M614 344.5h1M616 344.5h4M401 345.5h3M458 345.5h2M476 345.5h1M540 345.5h7M548 345.5h1M550 345.5h1M552 345.5h1M555 345.5h1M579 345.5h1M618 345.5h4M404 346.5h2M457 346.5h3M476 346.5h1M544 346.5h1M546 346.5h3M551 346.5h1M556 346.5h1M577 346.5h2M621 346.5h3M406 347.5h1M460 347.5h1M462 347.5h1M474 347.5h2M552 347.5h1M557 347.5h1M576 347.5h1M407 348.5h4M457 348.5h1M462 348.5h3M468 348.5h1M472 348.5h3M557 348.5h1M575 348.5h2M409 349.5h5M460 349.5h2M464 349.5h9M558 349.5h2M564 349.5h1M566 349.5h4M571 349.5h4M412 350.5h1M414 350.5h3M460 350.5h2M559 350.5h10M570 350.5h1M416 351.5h5M422 351.5h1M424 351.5h1M445 351.5h1M418 352.5h9M445 352.5h2M456 352.5h1M425 353.5h2M428 353.5h4M446 353.5h3M427 354.5h18M447 354.5h10M450 355.5h1" fill="none" stroke="#ff0000" stroke-width="1" shape-rendering="crispEdges"/>
</g>
<g stroke="#000" stroke-width="1" shape-rendering="crispEdges" fill="none">
<line x1="52" y1="129.5" x2="624" y2="129.5"/>
<line x1="52" y1="234.5" x2="624" y2="234.5"/>
<line x1="52" y1="339.5" x2="624" y2="339.5"/>
</g>
<text x="157" y="19.5" font-size="12" textLength="362" lengthAdjust="spacingAndGlyphs">GOES 0.1-0.8nm (red), LYRA Al (blue) &amp; Zr (grey) proxy</text>
<text x="52.5" y="458" font-size="9.5" text-anchor="middle">0</text>
<text x="171.5" y="458" font-size="9.5" text-anchor="middle">5</text>
<text x="290.5" y="458" font-size="9.5" text-anchor="middle">10</text>
<text x="410.5" y="458" font-size="9.5" text-anchor="middle">15</text>
<text x="529.5" y="458" font-size="9.5" text-anchor="middle">20</text>
<text x="266.5" y="470" font-size="9.5" textLength="143" lengthAdjust="spacingAndGlyphs">Time / h UTC, 20 Feb 2014</text>
<text x="488.5" y="495" font-size="10" textLength="154" lengthAdjust="spacingAndGlyphs">ROB/SIDC, Brussels, Belgium</text>
<text x="33" y="30.0" font-size="8">10<tspan dy="-3.5" font-size="5.5">-3</tspan></text>
<text x="33" y="133.0" font-size="8">10<tspan dy="-3.5" font-size="5.5">-4</tspan></text>
<text x="33" y="238.0" font-size="8">10<tspan dy="-3.5" font-size="5.5">-5</tspan></text>
<text x="33" y="343.0" font-size="8">10<tspan dy="-3.5" font-size="5.5">-6</tspan></text>
<text x="33" y="445.0" font-size="8">10<tspan dy="-3.5" font-size="5.5">-7</tspan></text>
<text x="631.5" y="80.0" font-size="10">X</text>
<text x="631.5" y="185.0" font-size="10">M</text>
<text x="631.5" y="290.0" font-size="10">C</text>
<text x="631.5" y="395.0" font-size="10">B</text>
<path class="hs" shape-rendering="crispEdges" d="M164.5 12.5 L163.5 12.5 L162.5 11.5 L160.5 11.5 L159.5 11.5 L158.5 12.5 L158.5 14.5 L158.5 16.5 L158.5 17.5 L158.5 18.5 L159.5 18.5 L160.5 19.5 L162.5 19.5 L162.5 18.5 L163.5 18.5 L164.5 17.5 L164.5 16.5M162.5 16.5 L164.5 16.5M168.5 11.5 L167.5 12.5 L166.5 12.5 L166.5 14.5 L166.5 16.5 L166.5 17.5 L167.5 18.5 L168.5 18.5 L168.5 19.5 L170.5 19.5 L171.5 18.5 L172.5 17.5 L172.5 16.5 L172.5 14.5 L172.5 12.5 L171.5 12.5 L171.5 11.5 L170.5 11.5 L168.5 11.5M175.5 11.5 L175.5 19.5M175.5 11.5 L180.5 11.5M175.5 14.5 L178.5 14.5M175.5 19.5 L180.5 19.5M188.5 12.5 L187.5 11.5 L186.5 11.5 L184.5 11.5 L183.5 11.5 L182.5 12.5 L183.5 13.5 L183.5 14.5 L184.5 14.5 L186.5 15.5 L187.5 15.5 L187.5 16.5 L188.5 16.5 L188.5 18.5 L187.5 18.5 L186.5 19.5 L184.5 19.5 L183.5 18.5 L182.5 18.5M199.5 11.5 L198.5 11.5 L197.5 12.5 L196.5 14.5 L196.5 15.5 L197.5 17.5 L198.5 18.5 L199.5 19.5 L201.5 18.5 L201.5 17.5 L202.5 15.5 L202.5 14.5 L201.5 12.5 L201.5 11.5 L199.5 11.5M205.5 18.5 L205.5 19.5 L205.5 18.5M209.5 12.5 L210.5 12.5 L211.5 11.5 L211.5 19.5M216.5 15.5 L224.5 15.5M229.5 11.5 L228.5 11.5 L227.5 12.5 L226.5 14.5 L226.5 15.5 L227.5 17.5 L228.5 18.5 L229.5 19.5 L230.5 19.5 L231.5 18.5 L231.5 17.5 L232.5 15.5 L232.5 14.5 L231.5 12.5 L231.5 11.5 L230.5 11.5 L229.5 11.5M235.5 18.5 L235.5 19.5 L235.5 18.5M240.5 11.5 L239.5 11.5 L239.5 12.5 L239.5 13.5 L240.5 14.5 L241.5 14.5 L243.5 14.5 L243.5 15.5 L244.5 16.5 L244.5 17.5 L243.5 18.5 L242.5 19.5 L240.5 19.5 L239.5 18.5 L238.5 17.5 L238.5 16.5 L239.5 15.5 L239.5 14.5 L241.5 14.5 L242.5 14.5 L243.5 13.5 L243.5 12.5 L243.5 11.5 L242.5 11.5 L240.5 11.5M246.5 13.5 L246.5 19.5M246.5 15.5 L248.5 14.5 L248.5 13.5 L250.5 13.5 L250.5 14.5 L251.5 15.5 L251.5 19.5M254.5 13.5 L254.5 19.5M254.5 15.5 L255.5 14.5 L256.5 13.5 L257.5 13.5 L258.5 14.5 L258.5 15.5 L258.5 19.5M258.5 15.5 L260.5 14.5 L260.5 13.5 L261.5 13.5 L262.5 14.5 L263.5 15.5 L263.5 19.5M275.5 9.5 L274.5 10.5 L273.5 11.5 L273.5 12.5 L272.5 14.5 L272.5 16.5 L273.5 18.5 L273.5 20.5 L274.5 21.5 L275.5 22.5M278.5 13.5 L278.5 19.5M278.5 16.5 L278.5 14.5 L279.5 14.5 L280.5 13.5 L281.5 13.5M282.5 16.5 L287.5 16.5 L287.5 15.5 L287.5 14.5 L286.5 14.5 L286.5 13.5 L284.5 13.5 L284.5 14.5 L283.5 14.5 L282.5 16.5 L283.5 18.5 L284.5 18.5 L284.5 19.5 L286.5 19.5 L286.5 18.5 L287.5 18.5M294.5 11.5 L294.5 19.5M294.5 14.5 L293.5 14.5 L293.5 13.5 L292.5 13.5 L291.5 14.5 L290.5 14.5 L290.5 16.5 L290.5 18.5 L291.5 18.5 L292.5 19.5 L293.5 19.5 L293.5 18.5 L294.5 18.5M297.5 9.5 L298.5 10.5 L299.5 11.5 L299.5 12.5 L300.5 14.5 L300.5 16.5 L299.5 18.5 L299.5 20.5 L298.5 21.5 L297.5 22.5M304.5 18.5 L303.5 19.5 L303.5 18.5 L304.5 18.5 L304.5 19.5 L303.5 20.5M313.5 11.5 L313.5 19.5M313.5 19.5 L318.5 19.5M319.5 11.5 L322.5 14.5 L322.5 19.5M325.5 11.5 L322.5 14.5M327.5 11.5 L327.5 19.5M327.5 11.5 L331.5 11.5 L332.5 11.5 L333.5 12.5 L333.5 13.5 L332.5 14.5 L331.5 14.5 L327.5 14.5M330.5 14.5 L333.5 19.5M337.5 11.5 L334.5 19.5M337.5 11.5 L340.5 19.5M335.5 16.5 L339.5 16.5M351.5 11.5 L348.5 19.5M351.5 11.5 L354.5 19.5M349.5 16.5 L353.5 16.5M356.5 11.5 L356.5 19.5M368.5 9.5 L367.5 10.5 L367.5 11.5 L366.5 12.5 L365.5 14.5 L365.5 16.5 L366.5 18.5 L367.5 20.5 L367.5 21.5 L368.5 22.5M371.5 11.5 L371.5 19.5M371.5 14.5 L372.5 14.5 L372.5 13.5 L374.5 13.5 L374.5 14.5 L375.5 14.5 L376.5 16.5 L375.5 18.5 L374.5 18.5 L374.5 19.5 L372.5 19.5 L372.5 18.5 L371.5 18.5M378.5 11.5 L378.5 19.5M382.5 13.5 L382.5 17.5 L382.5 18.5 L383.5 19.5 L384.5 19.5 L385.5 18.5 L386.5 17.5M386.5 13.5 L386.5 19.5M389.5 16.5 L393.5 16.5 L393.5 15.5 L393.5 14.5 L392.5 13.5 L391.5 13.5 L390.5 14.5 L389.5 14.5 L389.5 16.5 L389.5 18.5 L390.5 18.5 L391.5 19.5 L392.5 19.5 L393.5 18.5M396.5 9.5 L397.5 10.5 L397.5 11.5 L398.5 12.5 L399.5 14.5 L399.5 16.5 L398.5 18.5 L397.5 20.5 L397.5 21.5 L396.5 22.5M416.5 14.5 L415.5 13.5 L414.5 14.5 L413.5 16.5 L412.5 18.5 L411.5 19.5 L409.5 19.5 L408.5 18.5 L408.5 17.5 L408.5 16.5 L408.5 15.5 L411.5 14.5 L412.5 13.5 L412.5 12.5 L412.5 11.5 L411.5 11.5 L410.5 11.5 L410.5 12.5 L410.5 14.5 L411.5 15.5 L413.5 18.5 L414.5 18.5 L414.5 19.5 L415.5 19.5 L416.5 18.5M430.5 11.5 L424.5 19.5M424.5 11.5 L430.5 11.5M424.5 19.5 L430.5 19.5M432.5 13.5 L432.5 19.5M432.5 16.5 L433.5 14.5 L434.5 14.5 L434.5 13.5 L436.5 13.5M447.5 9.5 L446.5 10.5 L445.5 11.5 L444.5 12.5 L444.5 14.5 L444.5 16.5 L444.5 18.5 L445.5 20.5 L446.5 21.5 L447.5 22.5M454.5 13.5 L454.5 20.5 L453.5 21.5 L452.5 22.5 L451.5 22.5 L450.5 21.5M454.5 14.5 L453.5 14.5 L452.5 13.5 L451.5 13.5 L450.5 14.5 L449.5 14.5 L449.5 16.5 L449.5 18.5 L450.5 18.5 L451.5 19.5 L452.5 19.5 L453.5 18.5 L454.5 18.5M457.5 13.5 L457.5 19.5M457.5 16.5 L457.5 14.5 L458.5 14.5 L459.5 13.5 L460.5 13.5M462.5 16.5 L466.5 16.5 L466.5 15.5 L466.5 14.5 L465.5 13.5 L464.5 13.5 L463.5 14.5 L462.5 14.5 L462.5 16.5 L462.5 18.5 L463.5 18.5 L464.5 19.5 L465.5 19.5 L466.5 18.5M468.5 13.5 L471.5 19.5M473.5 13.5 L471.5 19.5 L470.5 20.5 L469.5 21.5 L468.5 22.5M475.5 9.5 L476.5 10.5 L477.5 11.5 L478.5 12.5 L478.5 14.5 L478.5 16.5 L478.5 18.5 L477.5 20.5 L476.5 21.5 L475.5 22.5M487.5 13.5 L487.5 22.5M487.5 14.5 L488.5 14.5 L489.5 13.5 L490.5 13.5 L491.5 14.5 L492.5 14.5 L492.5 16.5 L492.5 18.5 L491.5 18.5 L490.5 19.5 L489.5 19.5 L488.5 18.5 L487.5 18.5M495.5 13.5 L495.5 19.5M495.5 16.5 L495.5 14.5 L496.5 14.5 L497.5 13.5 L498.5 13.5M502.5 13.5 L501.5 14.5 L500.5 14.5 L500.5 16.5 L500.5 18.5 L501.5 18.5 L502.5 19.5 L503.5 19.5 L504.5 18.5 L505.5 16.5 L504.5 14.5 L503.5 13.5 L502.5 13.5M507.5 13.5 L511.5 19.5M511.5 13.5 L507.5 19.5M513.5 13.5 L516.5 19.5M518.5 13.5 L516.5 19.5 L515.5 20.5 L514.5 21.5 L513.5 22.5M51.5 451.5 L50.5 451.5 L50.5 452.5 L49.5 454.5 L50.5 456.5 L50.5 457.5 L51.5 457.5 L52.5 457.5 L53.5 457.5 L54.5 456.5 L54.5 454.5 L54.5 452.5 L53.5 451.5 L52.5 451.5 L51.5 451.5M172.5 451.5 L169.5 451.5 L169.5 454.5 L169.5 453.5 L170.5 453.5 L171.5 453.5 L172.5 453.5 L173.5 454.5 L173.5 455.5 L173.5 456.5 L172.5 457.5 L171.5 457.5 L170.5 457.5 L169.5 457.5 L169.5 456.5M286.5 452.5 L287.5 451.5 L287.5 457.5M293.5 451.5 L292.5 451.5 L291.5 452.5 L291.5 454.5 L291.5 456.5 L292.5 457.5 L293.5 457.5 L294.5 457.5 L295.5 456.5 L295.5 454.5 L295.5 452.5 L294.5 451.5 L293.5 451.5M405.5 452.5 L406.5 451.5 L406.5 457.5M414.5 451.5 L411.5 451.5 L410.5 454.5 L411.5 453.5 L412.5 453.5 L413.5 453.5 L414.5 453.5 L414.5 454.5 L415.5 455.5 L414.5 456.5 L414.5 457.5 L413.5 457.5 L412.5 457.5 L411.5 457.5 L410.5 457.5 L410.5 456.5M523.5 452.5 L524.5 451.5 L525.5 451.5 L526.5 451.5 L527.5 451.5 L527.5 452.5 L527.5 453.5 L526.5 454.5 L523.5 457.5 L527.5 457.5M531.5 451.5 L530.5 451.5 L530.5 452.5 L529.5 454.5 L530.5 456.5 L530.5 457.5 L531.5 457.5 L532.5 457.5 L533.5 457.5 L533.5 456.5 L534.5 454.5 L533.5 452.5 L533.5 451.5 L532.5 451.5 L531.5 451.5M268.5 463.5 L268.5 469.5M266.5 463.5 L271.5 463.5M272.5 463.5 L273.5 463.5 L272.5 462.5 L272.5 463.5M272.5 465.5 L272.5 469.5M275.5 465.5 L275.5 469.5M275.5 466.5 L276.5 465.5 L277.5 465.5 L278.5 465.5 L278.5 466.5 L278.5 469.5M278.5 466.5 L279.5 465.5 L280.5 465.5 L281.5 465.5 L282.5 466.5 L282.5 469.5M284.5 467.5 L288.5 467.5 L288.5 466.5 L287.5 465.5 L286.5 465.5 L285.5 465.5 L284.5 466.5 L284.5 467.5 L284.5 468.5 L285.5 469.5 L286.5 469.5 L287.5 469.5 L288.5 468.5M300.5 461.5 L295.5 472.5M307.5 463.5 L307.5 469.5M307.5 466.5 L308.5 465.5 L309.5 465.5 L310.5 465.5 L311.5 466.5 L311.5 469.5M318.5 463.5 L318.5 467.5 L319.5 468.5 L319.5 469.5 L320.5 469.5 L321.5 469.5 L322.5 469.5 L322.5 468.5 L323.5 467.5 L323.5 463.5M327.5 463.5 L327.5 469.5M324.5 463.5 L329.5 463.5M335.5 464.5 L334.5 463.5 L333.5 463.5 L332.5 463.5 L331.5 463.5 L331.5 464.5 L330.5 464.5 L330.5 465.5 L330.5 467.5 L330.5 468.5 L331.5 468.5 L331.5 469.5 L332.5 469.5 L333.5 469.5 L334.5 469.5 L335.5 468.5M338.5 469.5 L337.5 469.5 L338.5 469.5 L338.5 470.5 L337.5 470.5 L337.5 471.5M345.5 464.5 L346.5 463.5 L347.5 463.5 L348.5 463.5 L349.5 463.5 L349.5 464.5 L349.5 465.5 L348.5 466.5 L345.5 469.5 L349.5 469.5M353.5 463.5 L352.5 463.5 L352.5 464.5 L351.5 466.5 L352.5 468.5 L352.5 469.5 L353.5 469.5 L354.5 469.5 L355.5 469.5 L356.5 468.5 L356.5 466.5 L356.5 464.5 L355.5 463.5 L354.5 463.5 L353.5 463.5M363.5 463.5 L363.5 469.5M363.5 463.5 L367.5 463.5M363.5 466.5 L366.5 466.5M369.5 467.5 L372.5 467.5 L372.5 466.5 L372.5 465.5 L371.5 465.5 L370.5 465.5 L369.5 466.5 L369.5 467.5 L369.5 468.5 L370.5 469.5 L371.5 469.5 L372.5 469.5 L372.5 468.5M375.5 463.5 L375.5 469.5M375.5 466.5 L375.5 465.5 L376.5 465.5 L377.5 465.5 L378.5 466.5 L378.5 467.5 L378.5 468.5 L377.5 469.5 L376.5 469.5 L375.5 469.5 L375.5 468.5M386.5 464.5 L386.5 463.5 L387.5 463.5 L388.5 463.5 L389.5 463.5 L390.5 464.5 L390.5 465.5 L389.5 465.5 L389.5 466.5 L385.5 469.5 L390.5 469.5M394.5 463.5 L393.5 463.5 L392.5 464.5 L392.5 466.5 L392.5 468.5 L393.5 469.5 L394.5 469.5 L395.5 469.5 L396.5 468.5 L396.5 466.5 L396.5 464.5 L395.5 463.5 L394.5 463.5M399.5 464.5 L400.5 464.5 L401.5 463.5 L401.5 469.5M408.5 463.5 L404.5 467.5 L409.5 467.5M408.5 463.5 L408.5 469.5M489.5 487.5 L489.5 494.5M489.5 487.5 L492.5 487.5 L493.5 487.5 L493.5 488.5 L493.5 489.5 L493.5 490.5 L492.5 490.5 L489.5 490.5M491.5 490.5 L493.5 494.5M498.5 487.5 L497.5 487.5 L496.5 488.5 L496.5 489.5 L495.5 490.5 L495.5 491.5 L496.5 492.5 L496.5 493.5 L497.5 494.5 L498.5 494.5 L499.5 494.5 L500.5 494.5 L500.5 493.5 L501.5 492.5 L501.5 491.5 L501.5 490.5 L501.5 489.5 L500.5 488.5 L500.5 487.5 L499.5 487.5 L498.5 487.5M503.5 487.5 L503.5 494.5M503.5 487.5 L506.5 487.5 L507.5 487.5 L508.5 488.5 L508.5 489.5 L508.5 490.5 L507.5 490.5 L506.5 490.5M503.5 490.5 L506.5 490.5 L507.5 491.5 L508.5 491.5 L508.5 492.5 L508.5 493.5 L507.5 494.5 L506.5 494.5 L503.5 494.5M516.5 486.5 L510.5 496.5M522.5 488.5 L521.5 487.5 L520.5 487.5 L519.5 487.5 L518.5 487.5 L517.5 488.5 L517.5 489.5 L518.5 489.5 L518.5 490.5 L519.5 490.5 L521.5 491.5 L522.5 491.5 L522.5 492.5 L522.5 493.5 L521.5 494.5 L520.5 494.5 L519.5 494.5 L518.5 494.5 L517.5 493.5M525.5 487.5 L525.5 494.5M527.5 487.5 L527.5 494.5M527.5 487.5 L530.5 487.5 L531.5 487.5 L531.5 488.5 L532.5 489.5 L532.5 490.5 L532.5 491.5 L532.5 492.5 L531.5 493.5 L531.5 494.5 L530.5 494.5 L527.5 494.5M539.5 489.5 L539.5 488.5 L538.5 487.5 L537.5 487.5 L536.5 487.5 L535.5 487.5 L535.5 488.5 L534.5 489.5 L534.5 490.5 L534.5 491.5 L534.5 492.5 L535.5 493.5 L535.5 494.5 L536.5 494.5 L537.5 494.5 L538.5 494.5 L539.5 493.5 L539.5 492.5M542.5 494.5 L541.5 494.5 L542.5 493.5 L542.5 494.5 L542.5 495.5 L541.5 495.5M550.5 487.5 L550.5 494.5M550.5 487.5 L553.5 487.5 L554.5 487.5 L555.5 488.5 L555.5 489.5 L555.5 490.5 L554.5 490.5 L553.5 490.5M550.5 490.5 L553.5 490.5 L554.5 491.5 L555.5 491.5 L555.5 492.5 L555.5 493.5 L554.5 494.5 L553.5 494.5 L550.5 494.5M557.5 489.5 L557.5 494.5M557.5 491.5 L558.5 490.5 L559.5 489.5 L560.5 489.5M562.5 489.5 L562.5 493.5 L562.5 494.5 L563.5 494.5 L564.5 494.5 L565.5 493.5M565.5 489.5 L565.5 494.5M571.5 490.5 L570.5 489.5 L569.5 489.5 L568.5 490.5 L568.5 491.5 L569.5 491.5 L570.5 492.5 L571.5 492.5 L571.5 493.5 L571.5 494.5 L570.5 494.5 L569.5 494.5 L568.5 494.5 L568.5 493.5M577.5 490.5 L576.5 489.5 L575.5 489.5 L574.5 490.5 L573.5 490.5 L574.5 491.5 L576.5 492.5 L577.5 492.5 L577.5 493.5 L577.5 494.5 L576.5 494.5 L575.5 494.5 L574.5 494.5 L573.5 493.5M579.5 491.5 L583.5 491.5 L583.5 490.5 L582.5 489.5 L581.5 489.5 L580.5 490.5 L579.5 491.5 L579.5 492.5 L580.5 493.5 L580.5 494.5 L581.5 494.5 L582.5 494.5 L583.5 494.5 L583.5 493.5M586.5 487.5 L586.5 494.5M592.5 490.5 L591.5 490.5 L590.5 489.5 L589.5 489.5 L588.5 490.5 L588.5 491.5 L589.5 491.5 L591.5 492.5 L592.5 493.5 L591.5 494.5 L590.5 494.5 L589.5 494.5 L588.5 494.5 L588.5 493.5M595.5 494.5 L594.5 494.5 L594.5 493.5 L595.5 494.5 L594.5 495.5M603.5 487.5 L603.5 494.5M603.5 487.5 L606.5 487.5 L607.5 487.5 L607.5 488.5 L608.5 488.5 L608.5 489.5 L607.5 490.5 L606.5 490.5M603.5 490.5 L606.5 490.5 L607.5 491.5 L608.5 492.5 L608.5 493.5 L607.5 493.5 L607.5 494.5 L606.5 494.5 L603.5 494.5M610.5 491.5 L614.5 491.5 L613.5 490.5 L612.5 489.5 L611.5 489.5 L611.5 490.5 L610.5 490.5 L610.5 491.5 L610.5 492.5 L610.5 493.5 L611.5 494.5 L612.5 494.5 L613.5 494.5 L614.5 493.5M616.5 487.5 L616.5 494.5M622.5 489.5 L622.5 495.5 L622.5 496.5 L621.5 496.5 L620.5 496.5 L619.5 496.5M622.5 490.5 L621.5 489.5 L620.5 489.5 L619.5 490.5 L618.5 491.5 L618.5 492.5 L619.5 493.5 L619.5 494.5 L620.5 494.5 L621.5 494.5 L622.5 494.5 L622.5 493.5M625.5 487.5 L625.5 487.5M625.5 489.5 L625.5 494.5M628.5 489.5 L628.5 493.5 L628.5 494.5 L629.5 494.5 L630.5 494.5 L631.5 494.5 L632.5 493.5M632.5 489.5 L632.5 494.5M634.5 489.5 L634.5 494.5M634.5 491.5 L635.5 490.5 L636.5 489.5 L637.5 489.5 L638.5 490.5 L638.5 491.5 L638.5 494.5M638.5 491.5 L639.5 490.5 L640.5 489.5 L641.5 489.5 L641.5 490.5 L642.5 491.5 L642.5 494.5M34.5 25.5 L35.5 24.5 L35.5 29.5M39.5 24.5 L38.5 25.5 L38.5 26.5 L38.5 27.5 L38.5 28.5 L39.5 29.5 L40.5 29.5 L41.5 29.5 L41.5 28.5 L41.5 27.5 L41.5 26.5 L41.5 25.5 L41.5 24.5 L40.5 24.5 L39.5 24.5M43.5 24.5 L46.5 24.5M47.5 22.5 L49.5 22.5 L48.5 23.5 L49.5 23.5 L49.5 24.5 L49.5 25.5 L48.5 25.5 L47.5 25.5 L47.5 24.5M34.5 128.5 L35.5 127.5 L35.5 132.5M39.5 127.5 L38.5 128.5 L38.5 129.5 L38.5 130.5 L38.5 131.5 L39.5 132.5 L40.5 132.5 L41.5 132.5 L41.5 131.5 L41.5 130.5 L41.5 129.5 L41.5 128.5 L41.5 127.5 L40.5 127.5 L39.5 127.5M43.5 127.5 L46.5 127.5M49.5 125.5 L47.5 127.5 L49.5 127.5M49.5 125.5 L49.5 128.5M34.5 233.5 L35.5 232.5 L35.5 237.5M39.5 232.5 L38.5 233.5 L38.5 234.5 L38.5 235.5 L38.5 236.5 L39.5 237.5 L40.5 237.5 L41.5 237.5 L41.5 236.5 L41.5 235.5 L41.5 234.5 L41.5 233.5 L41.5 232.5 L40.5 232.5 L39.5 232.5M43.5 232.5 L46.5 232.5M49.5 230.5 L47.5 230.5 L47.5 231.5 L48.5 231.5 L49.5 231.5 L49.5 232.5 L49.5 233.5 L48.5 233.5 L47.5 233.5 L47.5 232.5M34.5 338.5 L35.5 337.5 L35.5 342.5M39.5 337.5 L38.5 338.5 L38.5 339.5 L38.5 340.5 L38.5 341.5 L39.5 342.5 L40.5 342.5 L41.5 342.5 L41.5 341.5 L41.5 340.5 L41.5 339.5 L41.5 338.5 L41.5 337.5 L40.5 337.5 L39.5 337.5M43.5 337.5 L46.5 337.5M49.5 335.5 L48.5 335.5 L47.5 335.5 L47.5 336.5 L47.5 337.5 L47.5 338.5 L48.5 338.5 L49.5 338.5 L49.5 337.5 L49.5 336.5 L48.5 336.5 L47.5 336.5 L47.5 337.5M34.5 440.5 L35.5 439.5 L35.5 444.5M39.5 439.5 L38.5 440.5 L38.5 441.5 L38.5 442.5 L38.5 443.5 L39.5 444.5 L40.5 444.5 L41.5 444.5 L41.5 443.5 L41.5 442.5 L41.5 441.5 L41.5 440.5 L41.5 439.5 L40.5 439.5 L39.5 439.5M43.5 439.5 L46.5 439.5M49.5 437.5 L48.5 440.5M47.5 437.5 L49.5 437.5M632.5 72.5 L636.5 79.5M632.5 79.5 L636.5 72.5M632.5 177.5 L632.5 184.5M632.5 177.5 L635.5 184.5M637.5 177.5 L635.5 184.5M637.5 177.5 L637.5 184.5M637.5 284.5 L636.5 283.5 L636.5 282.5 L635.5 282.5 L634.5 282.5 L633.5 282.5 L632.5 283.5 L632.5 284.5 L632.5 285.5 L632.5 286.5 L632.5 287.5 L632.5 288.5 L633.5 289.5 L634.5 289.5 L635.5 289.5 L636.5 289.5 L636.5 288.5 L637.5 287.5M632.5 387.5 L632.5 394.5M632.5 387.5 L635.5 387.5 L636.5 387.5 L636.5 388.5 L637.5 388.5 L637.5 389.5 L636.5 390.5 L635.5 390.5M632.5 390.5 L635.5 390.5 L636.5 391.5 L637.5 392.5 L637.5 393.5 L636.5 393.5 L636.5 394.5 L635.5 394.5 L632.5 394.5"/>
<path class="hs" shape-rendering="crispEdges" d="M21.5 285.5 L20.5 285.5 L20.5 286.5 L20.5 287.5 L21.5 288.5 L22.5 288.5 L23.5 288.5 L24.5 288.5 L25.5 287.5 L25.5 286.5 L25.5 285.5 L24.5 285.5 L23.5 285.5M23.5 286.5 L23.5 285.5M20.5 282.5 L21.5 283.5 L22.5 283.5 L23.5 283.5 L24.5 283.5 L25.5 282.5 L25.5 281.5 L25.5 280.5 L24.5 280.5 L24.5 279.5 L23.5 279.5 L22.5 279.5 L21.5 279.5 L21.5 280.5 L20.5 280.5 L20.5 281.5 L20.5 282.5M20.5 277.5 L25.5 277.5M20.5 277.5 L20.5 274.5M22.5 277.5 L22.5 275.5M25.5 277.5 L25.5 274.5M21.5 269.5 L20.5 270.5 L20.5 271.5 L20.5 272.5 L21.5 273.5 L22.5 272.5 L23.5 270.5 L23.5 269.5 L24.5 269.5 L25.5 270.5 L25.5 271.5 L25.5 272.5 L24.5 273.5M20.5 263.5 L25.5 263.5M22.5 261.5 L25.5 261.5M23.5 261.5 L22.5 261.5 L22.5 260.5 L22.5 259.5M22.5 258.5 L25.5 258.5M23.5 258.5 L22.5 258.5 L22.5 257.5 L22.5 256.5M22.5 252.5 L25.5 252.5M22.5 252.5 L22.5 253.5 L22.5 254.5 L22.5 255.5 L23.5 255.5 L24.5 255.5 L25.5 254.5 L25.5 253.5 L25.5 252.5 L24.5 252.5M20.5 247.5 L25.5 247.5M22.5 247.5 L22.5 248.5 L22.5 249.5 L22.5 250.5 L23.5 250.5 L24.5 250.5 L25.5 249.5 L25.5 248.5 L24.5 247.5M20.5 245.5 L20.5 245.5M22.5 245.5 L25.5 245.5M22.5 240.5 L25.5 240.5M22.5 240.5 L22.5 241.5 L22.5 242.5 L22.5 243.5 L23.5 243.5 L24.5 243.5 L25.5 242.5 L25.5 241.5 L24.5 240.5M22.5 238.5 L25.5 238.5M23.5 238.5 L22.5 237.5 L22.5 236.5 L23.5 235.5 L25.5 235.5M22.5 231.5 L22.5 232.5 L22.5 233.5 L23.5 234.5 L24.5 234.5 L24.5 233.5 L25.5 233.5 L25.5 232.5 L25.5 231.5 L24.5 231.5M23.5 229.5 L23.5 226.5 L22.5 226.5 L22.5 227.5 L22.5 228.5 L22.5 229.5 L23.5 229.5 L24.5 229.5 L25.5 228.5 L25.5 227.5 L25.5 226.5 L24.5 226.5M19.5 216.5 L27.5 221.5M19.5 209.5 L20.5 210.5 L21.5 210.5 L22.5 210.5 L23.5 210.5 L25.5 210.5 L26.5 210.5 L26.5 209.5 L27.5 209.5M20.5 207.5 L25.5 206.5M20.5 205.5 L25.5 206.5M20.5 205.5 L25.5 204.5M20.5 202.5 L25.5 204.5M22.5 197.5 L25.5 197.5M23.5 197.5 L22.5 196.5 L22.5 195.5 L22.5 194.5 L23.5 194.5 L25.5 194.5M23.5 194.5 L22.5 193.5 L22.5 192.5 L22.5 191.5 L23.5 191.5 L25.5 191.5M20.5 190.5 L20.5 187.5M19.5 185.5 L19.5 184.5 L20.5 184.5 L22.5 186.5 L22.5 183.5M19.5 182.5 L20.5 181.5 L21.5 181.5 L22.5 180.5 L23.5 180.5 L25.5 181.5 L26.5 181.5 L26.5 182.5 L27.5 182.5"/>
<text transform="translate(25.7,289.7) rotate(-90)" x="0" y="0" font-size="8" textLength="109" lengthAdjust="spacingAndGlyphs">GOES Irradiance / (W m<tspan dy="-3" font-size="5.5">-2</tspan><tspan dy="3">)</tspan></text>
</svg>
</body></html>
